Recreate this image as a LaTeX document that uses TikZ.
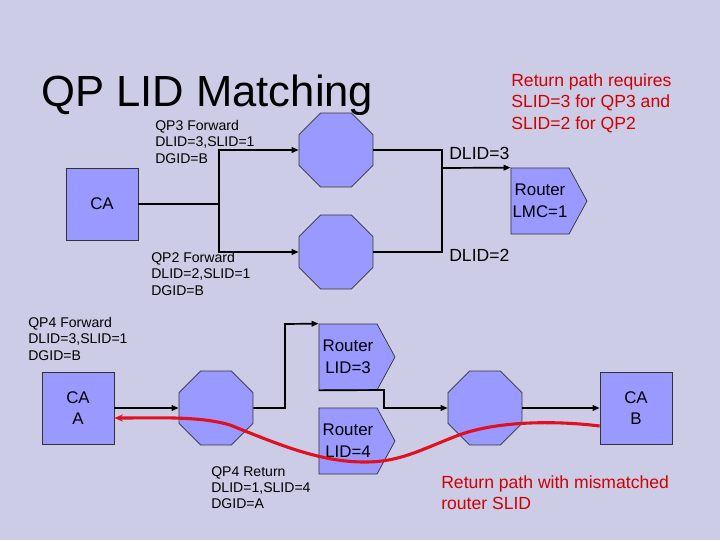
\documentclass[tikz,border=0pt]{standalone}
\usepackage{fontspec}
\setmainfont{Liberation Sans}
\usetikzlibrary{shapes.geometric, shapes.symbols, arrows.meta, positioning, calc}
\definecolor{slidebg}{HTML}{CCCCE6}
\definecolor{devfill}{HTML}{9999FF}
\definecolor{noteRed}{HTML}{D00000}
\definecolor{pathRed}{HTML}{E0101E}
\tikzset{
  device/.style={
    rectangle, draw=black!80, line width=0.5pt, fill=devfill,
    minimum width=1.8cm, minimum height=1.8cm, align=center,
    font=\fontsize{12}{15}\selectfont
  },
  switchbox/.style={
    regular polygon, regular polygon sides=8,
    draw=black!80, line width=0.5pt, fill=devfill, minimum size=2cm, inner sep=0pt
  },
  router/.style={
    signal, signal to=east, signal pointer angle=123, draw=black!80,
    line width=0.5pt, fill=devfill, minimum width=1.9cm, minimum height=1.65cm,
    align=center, inner sep=0pt, font=\fontsize{12}{15.4}\selectfont
  },
  link/.style={line width=1.2pt},
  flow/.style={link, -{Triangle[length=5pt, width=4pt]}},
  pktlabel/.style={
    anchor=north west, inner sep=0pt, align=left,
    font=\fontsize{10}{11.6}\selectfont
  },
  lidlabel/.style={anchor=west, inner sep=0pt, font=\fontsize{12.5}{15}\selectfont},
  note/.style={
    anchor=north west, inner sep=0pt, align=left, text=noteRed,
    font=\fontsize{12.5}{15.3}\selectfont
  },
  retpath/.style={draw=pathRed, line width=2.2pt, -{Stealth[length=6pt, width=5pt]}}
}

\begin{document}
\begin{tikzpicture}[x=0.025cm, y=-0.025cm]

  % Slide
  \fill[slidebg] (0,0) rectangle (720,540);
  \node[anchor=base west, inner sep=0pt, font=\fontsize{31}{36}\selectfont] (title) at (41,106) {QP LID Matching};
  \node[note] (reqnote) at (511,73) {Return path requires\\SLID=3 for QP3 and\\SLID=2 for QP2};

  % Upper fabric
  \node[device] (ca) at (102,204) {CA};
  \node[switchbox] (swtop) at (336,150) {};
  \node[switchbox] (swbot) at (336,252) {};
  \node[router] (rlmc) at (540,201) {Router\\LMC=1};
  \coordinate (jleft) at (219,204);
  \coordinate (jright) at (442,168);

  \draw[link] (ca.east) -- (jleft);
  \draw[flow] (jleft) |- (swtop.west);
  \draw[flow] (jleft) |- (swbot.west);
  \draw[link] (swtop.east) -| (jright) |- (swbot.east);
  \draw[flow] (jright) -- (rlmc.north west);

  \node[pktlabel] (qp3) at (155,120) {QP3 Forward\\DLID=3,SLID=1\\DGID=B};
  \node[pktlabel] (qp2) at (151,252) {QP2 Forward\\DLID=2,SLID=1\\DGID=B};
  \node[lidlabel] (dlid3) at (449,153) {DLID=3};
  \node[lidlabel] (dlid2) at (449,255) {DLID=2};

  % Lower fabric
  \node[device] (caa) at (78,408) {CA\\A};
  \node[switchbox] (swa) at (216,408) {};
  \node[router] (rthree) at (348,357) {Router\\LID=3};
  \node[router] (rfour) at (348,441) {Router\\LID=4};
  \node[switchbox] (swb) at (485,408) {};
  \node[device] (cab) at (636,408) {CA\\B};
  \coordinate (jup) at (285,324);
  \coordinate (jdown) at (384,390);

  \draw[flow] (caa.east) -- (swa.west);
  \draw[flow] (swa.east) -| (jup) -- (rthree.north west);
  \draw[flow] (rthree.south west) -- (jdown) |- (swb.west);
  \draw[flow] (swb.east) -- (cab.west);

  % Return path
  \draw[retpath] ([yshift=-18*0.025cm]cab.west)
    .. controls (560,421) and (500,420) .. (459,435)
    .. controls (420,450) and (400,462) .. (365,462)
    .. controls (320,462) and (280,445) .. (230,425)
    .. controls (200,416) and (160,418) .. ([yshift=-10*0.025cm]caa.east);

  \node[pktlabel] (qp4f) at (28,317) {QP4 Forward\\DLID=3,SLID=1\\DGID=B};
  \node[pktlabel] (qp4r) at (211,466) {QP4 Return\\DLID=1,SLID=4\\DGID=A};
  \node[note] (mismatch) at (441,475) {Return path with mismatched\\router SLID};

\end{tikzpicture}
\end{document}
